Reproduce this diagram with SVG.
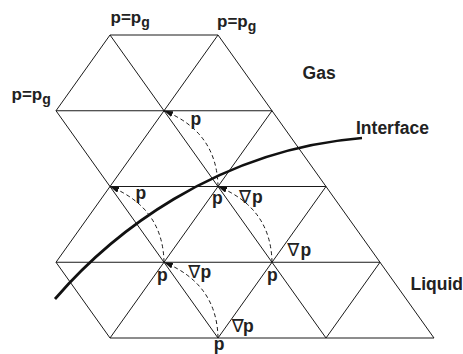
<svg xmlns="http://www.w3.org/2000/svg" width="463" height="354" viewBox="0 0 463 354">
<style>
.grid{fill:none;stroke:#1a1a1a;stroke-width:1}
.arc{fill:none;stroke:#1a1a1a;stroke-width:1;stroke-dasharray:4 3;marker-end:url(#ah)}
.iface{fill:none;stroke:#111;stroke-width:2.7}
text{font-family:"Liberation Sans",Arial,Helvetica,sans-serif;font-weight:bold;font-size:17.5px;fill:#222}
.sm{font-size:17px}
.sub{font-size:14px}
.nab{font-family:"DejaVu Sans",sans-serif;font-weight:normal;font-size:18px}
</style>
<defs>
<marker id="ah" markerUnits="userSpaceOnUse" markerWidth="10" markerHeight="6" refX="9" refY="3" orient="auto">
<path d="M0,0 L9,3 L0,6 z" fill="#111"/>
</marker>
</defs>
<rect width="463" height="354" fill="#fff"/>
<g id="lattice" class="grid">
<path d="M110,35 H218 M56,110.75 H272 M110,186.5 H326 M56,262.25 H380 M110,338 H434"/>
<path d="M110,35 L326,338 M218,35 L434,338 M56,110.75 L218,338 M56,262.25 L110,338"/>
<path d="M110,35 L56,110.75 M218,35 L56,262.25 M272,110.75 L110,338 M326,186.5 L218,338 M380,262.25 L326,338"/>
</g>
<g id="interface">
<path class="iface" d="M55,299 C110,235 215,150 362,138"/>
</g>
<g id="connectors">
<path class="arc" d="M218,338 Q217,284 164,262.25"/>
<path class="arc" d="M272,262.25 Q271,208 218,186.5"/>
<path class="arc" d="M164,262.25 Q163,208 110,186.5"/>
<path class="arc" d="M218,186.5 Q217,132 164,110.75"/>
</g>
<g id="labels">
<text class="sm" x="110.5" y="22.7">p=p<tspan class="sub" dy="4">g</tspan></text>
<text class="sm" x="217" y="26.5">p=p<tspan class="sub" dy="4">g</tspan></text>
<text class="sm" x="11.5" y="99.5">p=p<tspan class="sub" dy="4">g</tspan></text>
<text x="302.6" y="79.3">Gas</text>
<text x="356" y="134">Interface</text>
<text x="410.5" y="290">Liquid</text>
<text x="190.5" y="125.3">p</text>
<text x="135.5" y="198.5">p</text>
<text x="212" y="203.5">p</text>
<text x="157" y="281.3">p</text>
<text x="267" y="281.3">p</text>
<text x="213.8" y="350">p</text>
<text y="202.5"><tspan class="nab" x="239">∇</tspan><tspan x="252">p</tspan></text>
<text y="255.5"><tspan class="nab" x="287.3">∇</tspan><tspan x="300.5">p</tspan></text>
<text y="278"><tspan class="nab" x="188.3">∇</tspan><tspan x="200.5">p</tspan></text>
<text y="331.5"><tspan class="nab" x="231.7">∇</tspan><tspan x="243">p</tspan></text>
</g>
</svg>
